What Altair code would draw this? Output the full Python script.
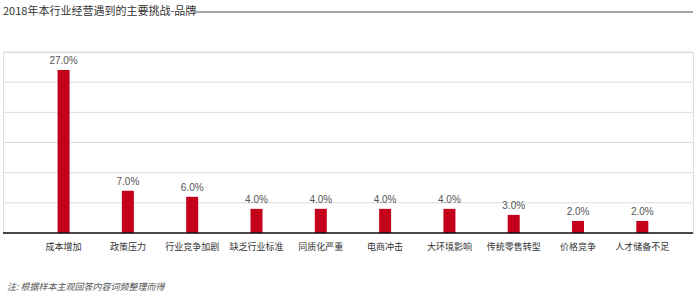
import altair as alt
import pandas as pd

categories = ["成本增加", "政策压力", "行业竞争加剧", "缺乏行业标准", "同质化严重",
              "电商冲击", "大环境影响", "传统零售转型", "价格竞争", "人才储备不足"]
values = [27, 7, 6, 4, 4, 4, 4, 3, 2, 2]
title_text = "2018年本行业经营遇到的主要挑战-品牌"
note_text = "注: 根据样本主观回答内容词频整理而得"
y_ticks = [5, 10, 15, 20, 25, 30]

df = pd.DataFrame({"cat": categories, "v": values})
FONT = "Noto Sans CJK SC"
W, H = 690, 181
yscale = alt.Scale(domain=[0, 30], nice=False)

xenc = alt.X("cat:N", sort=categories,
             scale=alt.Scale(paddingInner=0.81, paddingOuter=0.77, align=0.55),
             axis=alt.Axis(title=None, labelAngle=0, ticks=False, domain=False,
                           labelPadding=9, labelFontSize=9, labelColor="#333",
                           labelFont=FONT, grid=False))
yenc = alt.Y("v:Q", scale=yscale, axis=None)

grid = alt.Chart(pd.DataFrame({"g": y_ticks})).mark_rule(color="#dcdcdc", strokeWidth=1).encode(
    x=alt.value(0), x2=alt.value(W), y=alt.Y("g:Q", scale=yscale, axis=None))

base = alt.Chart(df)
bars = base.mark_bar(color="#C4001A", size=12).encode(x=xenc, y=yenc)
labels = base.transform_calculate(lab="format(datum.v, '.1f') + '%'").mark_text(
    dy=-4, fontSize=10, color="#555", font="Liberation Sans", baseline="bottom"
).encode(x=alt.X("cat:N", sort=categories), y="v:Q", text="lab:N")

baseline = alt.Chart(pd.DataFrame({"a": [0]})).mark_rule(color="#111", strokeWidth=1.5).encode(
    x=alt.value(0), x2=alt.value(W), y=alt.value(H))

title = alt.Chart(pd.DataFrame({"t": [title_text]})).mark_text(
    align="left", baseline="middle", fontSize=11, color="#333", font=FONT
).encode(x=alt.value(0), y=alt.value(-40), text="t:N")
title_line = alt.Chart(pd.DataFrame({"a": [0]})).mark_rule(color="#888", strokeWidth=1.5).encode(
    x=alt.value(190), x2=alt.value(W), y=alt.value(-40))
note = alt.Chart(pd.DataFrame({"t": [note_text]})).mark_text(
    align="left", baseline="middle", fontSize=9, color="#555", font=FONT, fontStyle="italic"
).encode(x=alt.value(4), y=alt.value(235), text="t:N")

chart = alt.layer(grid, bars, labels, baseline, title, title_line, note).properties(
    width=W, height=H,
    autosize=alt.AutoSizeParams(type="none"),
    padding={"left": 3, "top": 52, "right": 7, "bottom": 64},
).configure_view(stroke=None).configure(background="white")

chart.save("out.html", embed_options={"renderer": "svg", "actions": False})
